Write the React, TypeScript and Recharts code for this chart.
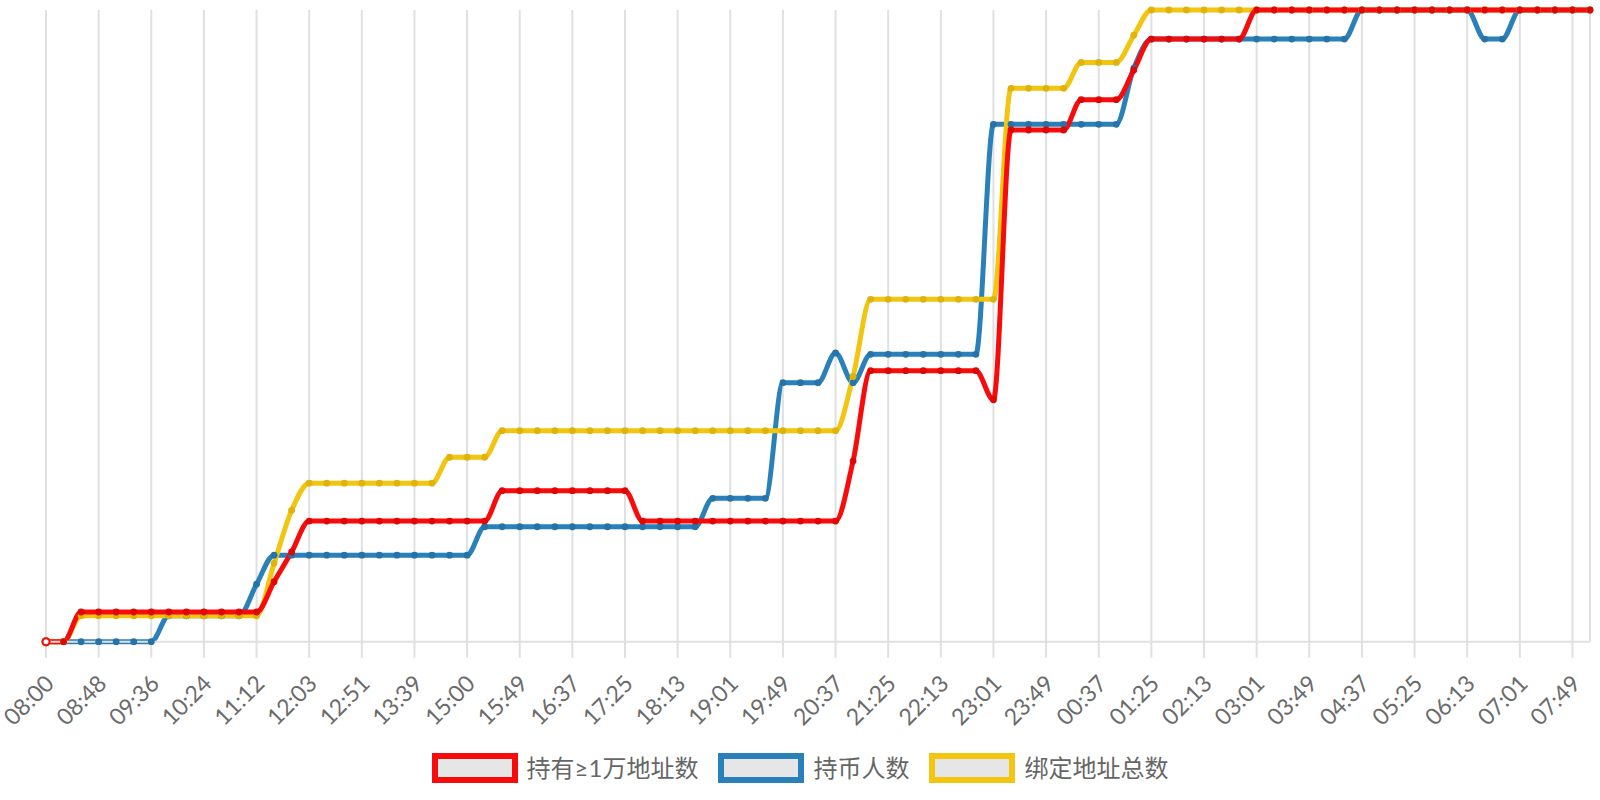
import React from 'react';
import { LineChart, Line, XAxis, YAxis, CartesianGrid } from 'recharts';

const times = [
  '08:00', '08:16', '08:32', '08:48', '09:04', '09:20', '09:36', '09:52', '10:08', '10:24',
  '10:40', '10:56', '11:12', '11:29', '11:46', '12:03', '12:19', '12:35', '12:51', '13:07',
  '13:23', '13:39', '14:06', '14:33', '15:00', '15:16', '15:32', '15:49', '16:05', '16:21',
  '16:37', '16:53', '17:09', '17:25', '17:41', '17:57', '18:13', '18:29', '18:45', '19:01',
  '19:17', '19:33', '19:49', '20:05', '20:21', '20:37', '20:53', '21:09', '21:25', '21:41',
  '21:57', '22:13', '22:29', '22:45', '23:01', '23:17', '23:33', '23:49', '00:05', '00:21',
  '00:37', '00:53', '01:09', '01:25', '01:41', '01:57', '02:13', '02:29', '02:45', '03:01',
  '03:17', '03:33', '03:49', '04:05', '04:21', '04:37', '04:53', '05:09', '05:25', '05:41',
  '05:57', '06:13', '06:29', '06:45', '07:01', '07:17', '07:33', '07:49', '08:05',
];

const tickLabels = [
  '08:00', '08:48', '09:36', '10:24', '11:12', '12:03', '12:51', '13:39', '15:00', '15:49',
  '16:37', '17:25', '18:13', '19:01', '19:49', '20:37', '21:25', '22:13', '23:01', '23:49',
  '00:37', '01:25', '02:13', '03:01', '03:49', '04:37', '05:25', '06:13', '07:01', '07:49',
];

// 持有≥1万地址数
const holders10k = [
  0, 0, 4.7, 4.7, 4.7, 4.7, 4.7, 4.7, 4.7, 4.7,
  4.7, 4.7, 4.7, 9.5, 14.2, 19.1, 19.1, 19.1, 19.1, 19.1,
  19.1, 19.1, 19.1, 19.1, 19.1, 19.1, 23.9, 23.9, 23.9, 23.9,
  23.9, 23.9, 23.9, 23.9, 19.1, 19.1, 19.1, 19.1, 19.1, 19.1,
  19.1, 19.1, 19.1, 19.1, 19.1, 19.1, 28.6, 42.9, 42.9, 42.9,
  42.9, 42.9, 42.9, 42.9, 38.3, 81.0, 81.0, 81.0, 81.0, 85.8,
  85.8, 85.8, 90.5, 95.4, 95.4, 95.4, 95.4, 95.4, 95.4, 100,
  100, 100, 100, 100, 100, 100, 100, 100, 100, 100,
  100, 100, 100, 100, 100, 100, 100, 100, 100,
];

// 持币人数
const coinHolders = [
  0, 0, 0, 0, 0, 0, 0, 4.1, 4.1, 4.1,
  4.1, 4.1, 9.1, 13.7, 13.7, 13.7, 13.7, 13.7, 13.7, 13.7,
  13.7, 13.7, 13.7, 13.7, 13.7, 18.2, 18.2, 18.2, 18.2, 18.2,
  18.2, 18.2, 18.2, 18.2, 18.2, 18.2, 18.2, 18.2, 22.7, 22.7,
  22.7, 22.7, 41.0, 41.0, 41.0, 45.7, 41.0, 45.5, 45.5, 45.5,
  45.5, 45.5, 45.5, 45.5, 81.9, 81.9, 81.9, 81.9, 81.9, 81.9,
  81.9, 81.9, 90.8, 95.4, 95.4, 95.4, 95.4, 95.4, 95.4, 95.4,
  95.4, 95.4, 95.4, 95.4, 95.4, 100, 100, 100, 100, 100,
  100, 100, 95.4, 95.4, 100, 100, 100, 100, 100,
];

// 绑定地址总数
const boundAddresses = [
  0, 0, 4.1, 4.1, 4.1, 4.1, 4.1, 4.1, 4.1, 4.1,
  4.1, 4.1, 4.1, 12.4, 20.8, 25.1, 25.1, 25.1, 25.1, 25.1,
  25.1, 25.1, 25.1, 29.2, 29.2, 29.2, 33.4, 33.4, 33.4, 33.4,
  33.4, 33.4, 33.4, 33.4, 33.4, 33.4, 33.4, 33.4, 33.4, 33.4,
  33.4, 33.4, 33.4, 33.4, 33.4, 33.4, 42.0, 54.2, 54.2, 54.2,
  54.2, 54.2, 54.2, 54.2, 54.2, 87.6, 87.6, 87.6, 87.6, 91.7,
  91.7, 91.7, 96.0, 100, 100, 100, 100, 100, 100, 100,
  100, 100, 100, 100, 100, 100, 100, 100, 100, 100,
  100, 100, 100, 100, 100, 100, 100, 100, 100,
];

const seriesNames = ['持有≥1万地址数', '持币人数', '绑定地址总数'];
const seriesColors = ['#f70b0b', '#2a81ba', '#f2c511'];
const dotColors = ['#e00606', '#2573a8', '#dfb20c'];

const data = times.map((t, i) => ({
  time: t,
  holders10k: holders10k[i],
  coinHolders: coinHolders[i],
  boundAddresses: boundAddresses[i],
}));

const FONT = "Lato, 'Noto Sans CJK SC', sans-serif";

const makeDot = (color: string, dark: string) => (props: any) => {
  const { cx, cy, index } = props;
  if (cx == null || cy == null) return <g key={`d-${index}`} />;
  if (index === 0) {
    return <circle key={`d-${index}`} cx={cx} cy={cy} r={3.5} fill="#fff" stroke={color} strokeWidth={2} />;
  }
  return <circle key={`d-${index}`} cx={cx} cy={cy} r={3.4} fill={dark} />;
};

const AxisTick = (props: any) => {
  const { x, y, payload } = props;
  return (
    <g transform={`translate(${x + 3},${y + 21})`}>
      <text
        x={0}
        y={0}
        transform="rotate(-45)"
        textAnchor="end"
        dominantBaseline="central"
        fontSize={23}
        fill="#6b6b6b"
        fontFamily={FONT}
      >
        {payload.value}
      </text>
    </g>
  );
};

const LegendBox = () => (
  <div
    style={{
      position: 'absolute',
      left: 0,
      top: 753,
      width: 1600,
      height: 30,
      display: 'flex',
      justifyContent: 'center',
      alignItems: 'center',
      fontFamily: FONT,
      fontSize: 24,
      color: '#666',
    }}
  >
    {seriesNames.map((name, i) => (
      <div key={name} style={{ display: 'flex', alignItems: 'center', marginLeft: i === 0 ? 0 : 20 }}>
        <div
          style={{
            width: 86,
            height: 30,
            boxSizing: 'border-box',
            border: `6px solid ${seriesColors[i]}`,
            background: '#e6e6e6',
          }}
        />
        <span style={{ marginLeft: 9, lineHeight: '30px', whiteSpace: 'nowrap' }}>{name}</span>
      </div>
    ))}
  </div>
);

export default function App() {
  return (
    <div style={{ position: 'absolute', left: 0, top: 0, width: 1600, height: 800, background: '#fff' }}>
      <LineChart
        width={1600}
        height={800}
        data={data}
        margin={{ top: 10, right: 10, left: 46, bottom: 98.3 }}
      >
        <CartesianGrid horizontal={false} stroke="#e0e0e0" strokeWidth={2} />
        <XAxis
          dataKey="time"
          ticks={tickLabels}
          interval={0}
          height={60}
          tickSize={16}
          tickMargin={0}
          axisLine={{ stroke: '#e0e0e0', strokeWidth: 2 }}
          tickLine={{ stroke: '#e0e0e0', strokeWidth: 2 }}
          tick={<AxisTick />}
          padding={{ left: 0, right: 0 }}
        />
        <YAxis hide domain={[0, 100]} />
        <Line
          type="monotone"
          dataKey="coinHolders"
          name={seriesNames[1]}
          stroke={seriesColors[1]}
          strokeWidth={5}
          dot={makeDot(seriesColors[1], dotColors[1])}
          activeDot={false}
          isAnimationActive={false}
        />
        <Line
          type="monotone"
          dataKey="boundAddresses"
          name={seriesNames[2]}
          stroke={seriesColors[2]}
          strokeWidth={5}
          dot={makeDot(seriesColors[2], dotColors[2])}
          activeDot={false}
          isAnimationActive={false}
        />
        <Line
          type="monotone"
          dataKey="holders10k"
          name={seriesNames[0]}
          stroke={seriesColors[0]}
          strokeWidth={5}
          dot={makeDot(seriesColors[0], dotColors[0])}
          activeDot={false}
          isAnimationActive={false}
        />
      </LineChart>
      <LegendBox />
    </div>
  );
}
